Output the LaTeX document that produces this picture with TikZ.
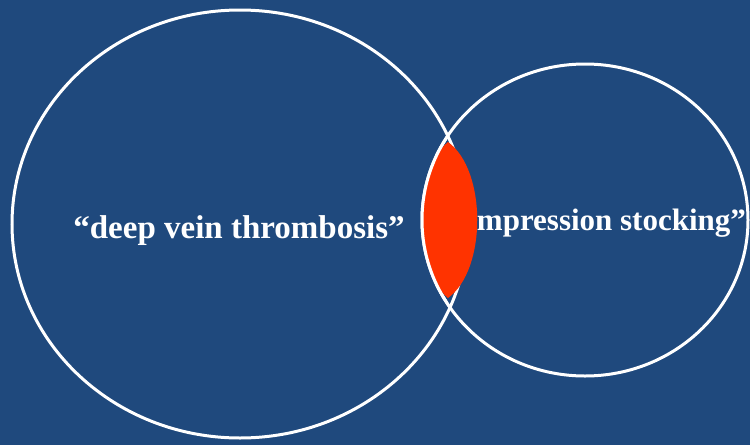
\documentclass[tikz,border=0pt]{standalone}
\usepackage{fontspec}
\setmainfont{Liberation Serif}
\definecolor{bgblue}{HTML}{1F497D}
\definecolor{lensred}{HTML}{FF3300}
\begin{document}
\begin{tikzpicture}[x=1pt,y=-1pt,
  ring/.style={draw=white,line width=3pt},
  label/.style={text=white,font=\bfseries\fontsize{33}{36}\selectfont,inner sep=0pt}]
\useasboundingbox (0,0) rectangle (750,445);
\clip (0,0) rectangle (750,445);
\fill[bgblue] (0,0) rectangle (750,445);
\draw[ring] (240,224) ellipse [x radius=228pt, y radius=214pt];
\draw[ring] (585,220) ellipse [x radius=163pt, y radius=156pt];
\node[label,anchor=base] (dvt) at (239,238) {“deep vein thrombosis”};
\node[label,font=\bfseries\fontsize{31}{34}\selectfont,anchor=base west] (cs) at (432,230) {“compression stocking”};
\fill[lensred] (448,142) .. controls (413,170) and (413,270) .. (448,298)
  .. controls (487,270) and (487,170) .. (448,142) -- cycle;
\begin{scope}
\clip (400,100) rectangle (448,340);
\draw[ring] (585,220) ellipse [x radius=163pt, y radius=156pt];
\end{scope}
\end{tikzpicture}
\end{document}
